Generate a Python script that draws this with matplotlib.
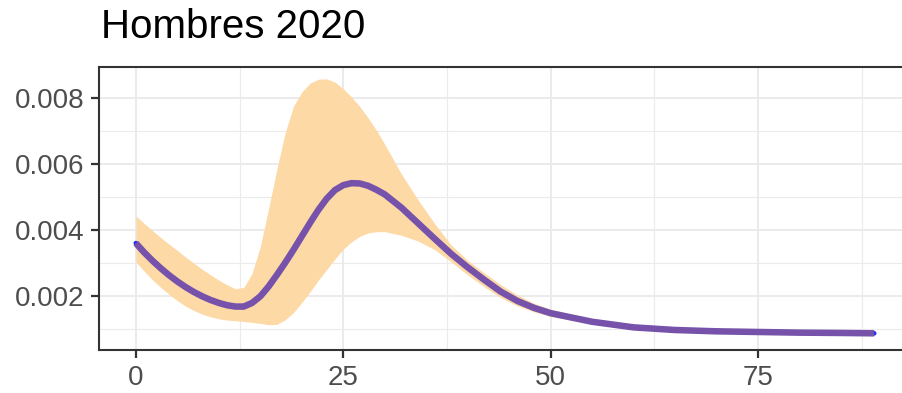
import matplotlib.pyplot as plt

# Hombres 2020: smoothed rate by age with confidence band
edad = [0, 1, 2, 3, 4, 5, 6, 7, 8, 9, 10, 11, 12, 13, 14, 15, 16, 17, 18, 19, 20,
        21, 22, 23, 24, 25, 26, 27, 28, 29, 30, 32, 34, 36, 38, 40, 42, 44, 46, 48,
        50, 55, 60, 65, 70, 75, 80, 85, 89]
tasa = [0.00360, 0.00332, 0.00307, 0.00284, 0.00263, 0.00244, 0.00227, 0.00212, 0.00199,
        0.00188, 0.00179, 0.00172, 0.00168, 0.00168, 0.00179, 0.00199, 0.00229, 0.00264,
        0.00301, 0.00340, 0.00381, 0.00422, 0.00461, 0.00495, 0.00521, 0.00536, 0.00542,
        0.00541, 0.00534, 0.00522, 0.00508, 0.00468, 0.00421, 0.00374, 0.00328, 0.00287,
        0.00249, 0.00213, 0.00185, 0.00164, 0.00148, 0.00122, 0.00105, 0.00097, 0.00093,
        0.00091, 0.00089, 0.00088, 0.00087]
sup = [0.00443, 0.00420, 0.00398, 0.00377, 0.00357, 0.00338, 0.00318, 0.00299, 0.00281,
       0.00264, 0.00248, 0.00234, 0.00222, 0.00226, 0.00268, 0.00350, 0.00465, 0.00585,
       0.00695, 0.00775, 0.00818, 0.00845, 0.00857, 0.00858, 0.00848, 0.00828, 0.00803,
       0.00774, 0.00740, 0.00702, 0.00660, 0.00570, 0.00492, 0.00420, 0.00355, 0.00308,
       0.00270, 0.00234, 0.00203, 0.00178, 0.00160, 0.00130, 0.00111, 0.00102, 0.00097,
       0.00095, 0.00093, 0.00092, 0.00091]
inf = [0.00303, 0.00275, 0.00249, 0.00226, 0.00205, 0.00186, 0.00169, 0.00156, 0.00145,
       0.00137, 0.00131, 0.00127, 0.00125, 0.00123, 0.00120, 0.00117, 0.00113, 0.00114,
       0.00128, 0.00150, 0.00180, 0.00213, 0.00248, 0.00280, 0.00312, 0.00342, 0.00364,
       0.00381, 0.00391, 0.00395, 0.00395, 0.00384, 0.00367, 0.00341, 0.00304, 0.00264,
       0.00228, 0.00195, 0.00170, 0.00152, 0.00138, 0.00115, 0.00100, 0.00092, 0.00089,
       0.00087, 0.00086, 0.00085, 0.00084]

x_ticks = [0, 25, 50, 75]
y_ticks = [0.002, 0.004, 0.006, 0.008]

plt.rcParams['font.family'] = ['Liberation Sans', 'DejaVu Sans']

fig = plt.figure(figsize=(9.02, 3.93), dpi=100)
# panel runs a bit past the right edge, as in the reference
ax = fig.add_axes([99/902, 43/393, 812/902, 283/393])

ax.fill_between(edad, inf, sup, color='#fdd9a6', lw=0, zorder=2)
ax.plot(edad, tasa, color='#2233ee', lw=3.5, solid_capstyle='round', zorder=3)
ax.plot(edad, tasa, color='#7652aa', lw=4.7, solid_capstyle='butt',
        solid_joinstyle='round', zorder=4)

ax.set_xlim(-4.45, 93.45)
ax.set_ylim(0.000364, 0.00894)
ax.set_xticks(x_ticks)
ax.set_xticklabels([str(t) for t in x_ticks])
ax.set_yticks(y_ticks)
ax.set_yticklabels(['%.3f' % t for t in y_ticks])
ax.set_xticks([12.5, 37.5, 62.5, 87.5], minor=True)
ax.set_yticks([0.001, 0.003, 0.005, 0.007], minor=True)

ax.grid(which='major', color='#ebebeb', lw=1.4, zorder=0)
ax.grid(which='minor', color='#ebebeb', lw=0.8, zorder=0)
ax.set_axisbelow(True)

ax.tick_params(which='major', length=5.5, width=1.6, color='#333333',
               labelsize=20, labelcolor='#4d4d4d', pad=5)
ax.tick_params(which='minor', length=0)
for s in ax.spines.values():
    s.set_color('#333333')
    s.set_linewidth(1.5)
ax.spines['right'].set_visible(False)

fig.text(101/902, 1 - 38/393, 'Hombres 2020', fontsize=29, color='black',
         ha='left', va='baseline')

fig.savefig('out.png', dpi=100)
